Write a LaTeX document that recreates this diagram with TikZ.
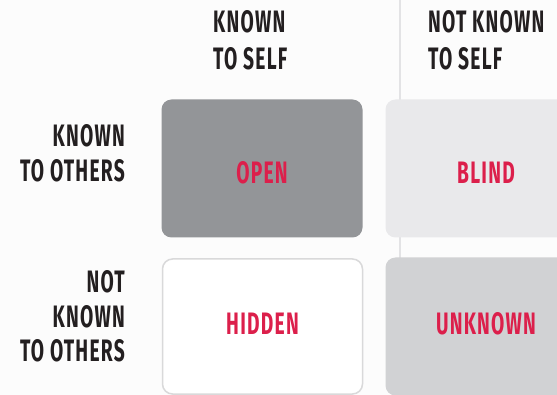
\documentclass[tikz,border=0pt]{standalone}
\usepackage{fontspec}
\setmainfont[FakeStretch=0.62,LetterSpace=4]{Fira Sans}
\usetikzlibrary{positioning}

\definecolor{jbg}{HTML}{FCFCFC}
\definecolor{jdark}{HTML}{231F20}
\definecolor{jred}{HTML}{DC1F4B}
\definecolor{jopen}{HTML}{939598}
\definecolor{jblind}{HTML}{E9E9EB}
\definecolor{jhidden}{HTML}{D9D9DA}
\definecolor{junknown}{HTML}{D1D2D4}
\definecolor{jrule}{HTML}{E3E3E5}

\begin{document}
\begin{tikzpicture}[x=1pt,y=-1pt,
        font=\bfseries\fontsize{31}{35}\selectfont,
        pane/.style={rounded corners=10pt, minimum width=201pt,
                     minimum height=138pt, inner sep=0pt, text=jred},
        upper/.style={text height=31pt, text depth=0pt},
        lower/.style={text height=21pt, text depth=5pt},
        toplabel/.style={anchor=base west, align=left, inner sep=0pt, text=jdark,
                         font=\bfseries\fontsize{31}{37}\selectfont},
        sidelabel/.style={anchor=base east, align=right, inner sep=0pt, text=jdark}
    ]
        \clip (0,0) rectangle (557,395);
        \fill[jbg] (0,0) rectangle (557,395);

        \coordinate (ruletop) at (400,0);
        \coordinate (rulebot) at (400,258);
        \draw[jrule, line width=2pt] (ruletop) -- (rulebot);

        \node[pane, upper, fill=jopen] (open) at (262,168.5) {OPEN};
        \node[pane, upper, fill=jblind] (blind) at (486,168.5) {BLIND};
        \node[pane, lower, fill=white, draw=jhidden, line width=1.5pt,
              minimum width=200pt, minimum height=135pt] (hidden) at (262.5,326.5) {HIDDEN};
        \node[pane, lower, fill=junknown] (unknown) at (486,326.5) {UNKNOWN};

        % anchor base = baseline of the last line
        \node[toplabel] (self) at (213,70) {KNOWN\\TO SELF};
        \node[toplabel] (notself) at (428,70) {NOT KNOWN\\TO SELF};

        \node[sidelabel] (others) at (125,182) {KNOWN\\TO OTHERS};
        \node[sidelabel] (notothers) at (125,362) {NOT\\KNOWN\\TO OTHERS};
    \end{tikzpicture}
\end{document}
